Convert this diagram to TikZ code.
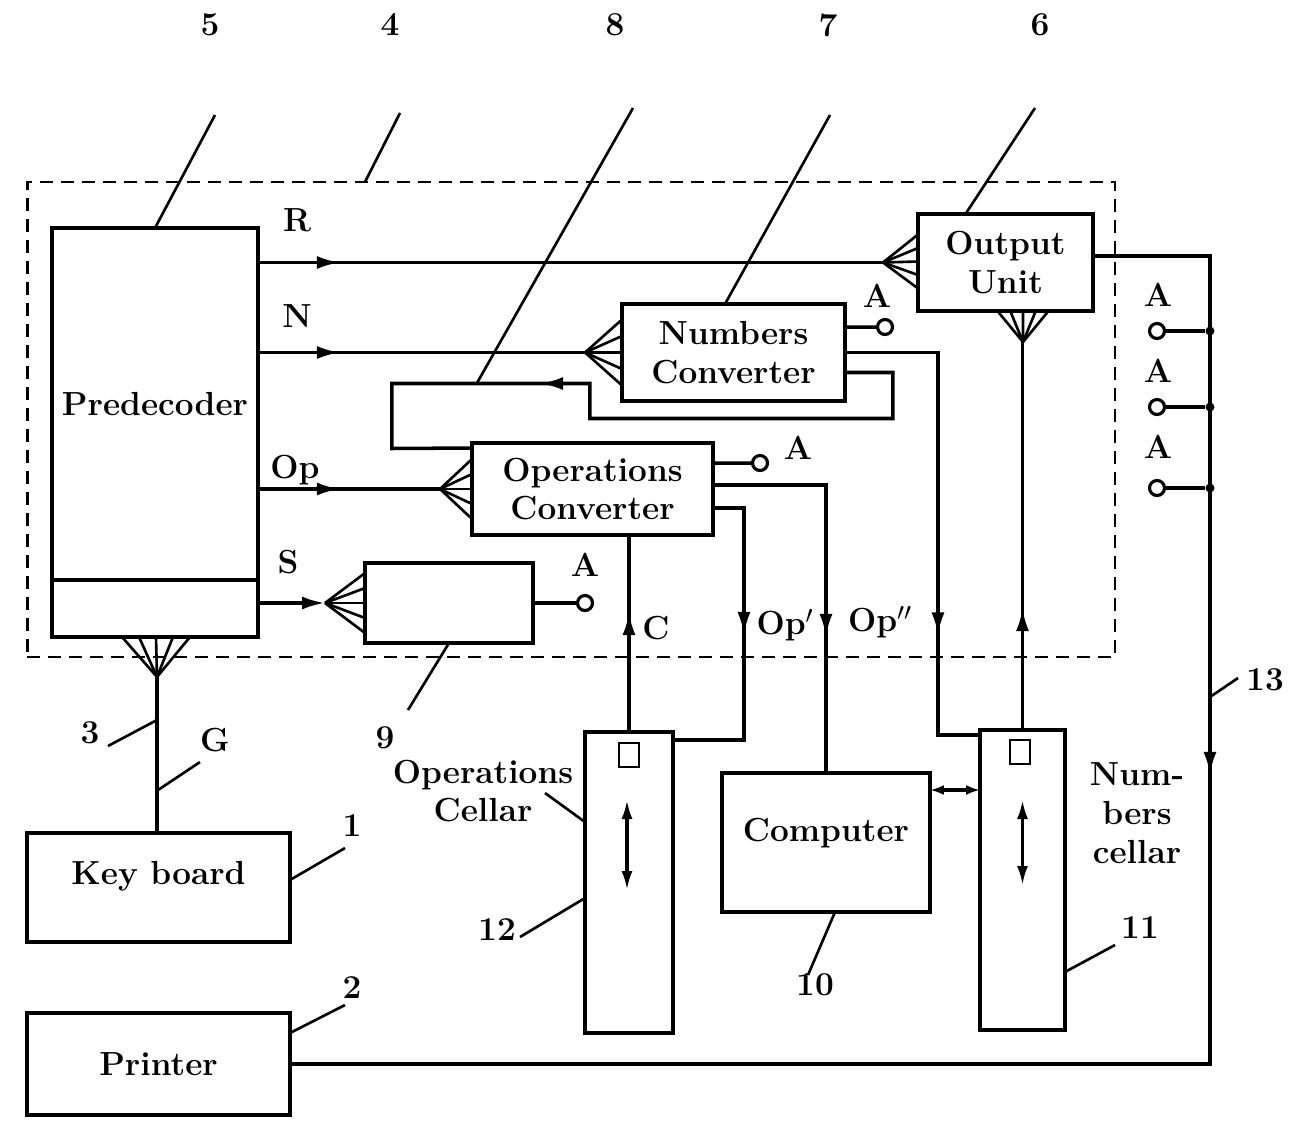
\documentclass[tikz,border=0pt]{standalone}
\usetikzlibrary{calc,positioning,arrows.meta,decorations.markings}
\newcommand{\fanin}[3]{%
  \foreach \fr in {0,0.25,0.5,0.75,1} \draw[fanline] (#1) -- ($#2!\fr!#3$);}

\begin{document}
\begin{tikzpicture}[x=0.02cm,y=-0.02cm,
  every node/.style={font=\fontsize{19}{22}\selectfont\bfseries},
  box/.style={draw,line width=2pt,rectangle,inner sep=0pt,outer sep=0pt,align=center},
  conn/.style={line width=2pt},
  lead/.style={line width=1.5pt},
  fanline/.style={line width=1.5pt},
  term/.style={draw,circle,line width=1.8pt,fill=white,minimum size=0.3cm,inner sep=0pt},
  jdot/.style={circle,fill,minimum size=0.18cm,inner sep=0pt},
  sq/.style={draw,line width=1.5pt,minimum width=0.4cm,minimum height=0.48cm,inner sep=0pt},
  midarrow/.style={postaction={decorate},decoration={markings,mark=at position #1 with {\arrow{>}}}},
  dbl/.style={line width=1.8pt,{Latex[length=0.38cm,width=0.22cm]}-{Latex[length=0.38cm,width=0.22cm]}},
  >={Latex[length=0.46cm,width=0.26cm]}]
\useasboundingbox (0,0) rectangle (1298,1126);

% dashed block 4
\node[draw,line width=1.6pt,dash pattern=on 0.26cm off 0.16cm,minimum width=21.76cm,minimum height=9.5cm,inner sep=0pt] (blk) at (571,419.5) {};

% boxes
\node[box,minimum width=4.12cm,minimum height=7.04cm] (pre) at (155,404) {Predecoder};
\node[box,minimum width=4.12cm,minimum height=1.14cm,anchor=north] (preb) at (pre.south) {};
\node[box,minimum width=3.5cm,minimum height=1.94cm] (outu) at (1005.5,262.5) {Output\\Unit};
\node[box,minimum width=4.46cm,minimum height=1.94cm] (numc) at (733.5,352.5) {Numbers\\Converter};
\node[box,minimum width=4.82cm,minimum height=1.84cm] (opc) at (592.5,489) {Operations\\Converter};
\node[box,minimum width=3.36cm,minimum height=1.6cm] (sgn) at (449,603) {};
\node[box,minimum width=5.26cm,minimum height=2.18cm,label={[name=keyt,yshift=0.22cm]center:Key board}] (key) at (158.5,887.5) {};
\node[box,minimum width=5.26cm,minimum height=2.04cm] (prn) at (158.5,1064) {Printer};
\node[box,minimum width=1.76cm,minimum height=6.02cm] (opcell) at (629,882.5) {};
\node[box,minimum width=4.16cm,minimum height=2.78cm,label={[name=compt,yshift=0.18cm]center:Computer}] (comp) at (826,842.5) {};
\node[box,minimum width=1.7cm,minimum height=6cm] (numcell) at (1022.5,880) {};

% cellar insides
\node[sq] (opsq) at ([yshift=2.55cm]opcell.center) {};
\node[sq] (nusq) at ([xshift=-0.05cm,yshift=2.56cm]numcell.center) {};
\draw[dbl] ([xshift=-0.04cm,yshift=1.65cm]opcell.center) -- ([xshift=-0.04cm,yshift=-0.15cm]opcell.center);
\draw[dbl] ([yshift=1.6cm]numcell.center) -- ([yshift=-0.1cm]numcell.center);

% fan inputs
\coordinate (outuF) at ([xshift=-0.7cm]outu.west);
\coordinate (outuB) at ([xshift=0.35cm,yshift=-0.62cm]outu.south);
\coordinate (numcF) at ([xshift=-0.74cm]numc.west);
\coordinate (opcF) at ([xshift=-0.64cm]opc.west);
\coordinate (sgnF) at ([xshift=-0.8cm]sgn.west);
\coordinate (preF) at ([xshift=0.04cm,yshift=-0.8cm]preb.south);
\fanin{outuF}{([yshift=0.56cm]outu.west)}{([yshift=-0.52cm]outu.west)}
\fanin{outuB}{([xshift=-0.16cm]outu.south)}{([xshift=0.86cm]outu.south)}
\fanin{numcF}{([yshift=0.66cm]numc.west)}{([yshift=-0.66cm]numc.west)}
\fanin{opcF}{([yshift=0.6cm]opc.west)}{([yshift=-0.6cm]opc.west)}
\fanin{sgnF}{([yshift=0.6cm]sgn.west)}{([yshift=-0.6cm]sgn.west)}
\fanin{preF}{([xshift=-0.66cm]preb.south)}{([xshift=0.7cm]preb.south)}

% signal lines
\draw[conn,midarrow=1.64cm] (pre.east |- outuF) -- (outuF);
\draw[conn,midarrow=1.64cm] (pre.east |- numcF) -- (numcF);
\draw[conn,midarrow=1.64cm] (pre.east |- opcF) -- (opcF);
\draw[conn,->] (preb.east |- sgnF) -- (sgnF);
\draw[conn,midarrow=9.64cm] ([yshift=-0.4cm]numc.east) -- ++(48,0) -- ++(0,46) -- ++(-303,0) -- ++(0,-35) -- ++(-198,0) -- ++(0,65) -- ([yshift=-0.1cm]opc.north west);
\draw[conn,midarrow=7.52cm] (numc.east) -- ++(93,0) |- ([yshift=-0.1cm]numcell.north west);
\draw[conn,midarrow=2.44cm] (numcell.north) -- (numcell.north |- outuB);
\draw[conn,midarrow=5.3cm] ([yshift=0.08cm]opc.east) -| (comp.north);
\draw[conn,midarrow=3.16cm] ([yshift=-0.38cm]opc.east) -- ++(31,0) |- ([yshift=-0.16cm]opcell.north east);
\draw[conn,midarrow=2.4cm] (opcell.north) -- (opcell.north |- opc.south);
\draw[dbl,{Latex[length=0.28cm,width=0.2cm]}-{Latex[length=0.28cm,width=0.2cm]}] ([yshift=-0.34cm]comp.north east) -- ([yshift=-0.34cm]comp.north east -| numcell.west);
\draw[conn] (preF) -- (preF |- key.north);
\draw[conn,midarrow=12.72cm] ([yshift=0.13cm]outu.east) -- ++(117,0) |- (prn.east);

% A terminals
\node[term] (tNc) at (885,327) {};
\node[term] (tOc) at (760,463) {};
\node[term] (tSg) at (585,603) {};
\draw[conn] ([yshift=0.51cm]numc.east) -- (tNc);
\draw[conn] ([yshift=0.52cm]opc.east) -- (tOc);
\draw[conn] (sgn.east) -- (tSg);
\foreach \k/\yy in {1/331,2/407,3/488} {
  \node[jdot] (j\k) at (1210,\yy) {};
  \node[term] (tB\k) at (1157,\yy) {};
  \draw[conn] (tB\k) -- (j\k);
}
\node (aNc) at (877,296) {A};
\node (aOc) at (798,448) {A};
\node (aSg) at (585,565) {A};
\node (aB1) at (1158,295) {A};
\node (aB2) at (1158,371) {A};
\node (aB3) at (1158,447) {A};

% signal names
\node (sR) at (297,220) {R};
\node (sN) at (297,316) {N};
\node (sOp) at (295,470) {Op};
\node (sS) at (288,562) {S};
\node (sC) at (656,628) {C};
\node (sOp1) at (785,625) {Op$'$};
\node (sOp2) at (880,622) {Op$''$};
\node (sG) at (215,740) {G};
\node[align=center] (opct) at (483,791) {Operations\\Cellar};
\node[align=center] (nuct) at (1137,813) {Num-\\bers\\cellar};

% reference numbers and leaders
\node (n5) at (210,25) {5};
\node (n4) at (390,25) {4};
\node (n8) at (615,25) {8};
\node (n7) at (828,25) {7};
\node (n6) at (1040,25) {6};
\node (n9) at (385,738) {9};
\node (n3) at (90,733) {3};
\node (n1) at (352,826) {1};
\node (n2) at (352,988) {2};
\node (n12) at (497,930) {12};
\node (n10) at (815,985) {10};
\node (n11) at (1140,928) {11};
\node (n13) at (1265,680) {13};
\coordinate (l5) at (215,115);
\coordinate (l4) at (400,113);
\coordinate (l8) at (633,108);
\coordinate (l7) at (830,115);
\coordinate (l6) at (1035,108);
\coordinate (l9) at (408,710);
\coordinate (l3) at (108,746);
\coordinate (lG) at (200,762);
\coordinate (l1) at (345,848);
\coordinate (l2) at (345,1005);
\coordinate (l12) at (520,937);
\coordinate (lOC) at (545,793);
\coordinate (l10) at (808,975);
\coordinate (l11) at (1115,945);
\coordinate (l13) at (1238,678);
\draw[lead] (l5) -- (pre.north);
\draw[lead] (l4) -- ++(-35,69);
\draw[lead] (l8) -- ++(-156,275);
\draw[lead] (l7) -- ([xshift=-0.17cm]numc.north);
\draw[lead] (l6) -- ([xshift=-0.8cm]outu.north);
\draw[lead] (sgn.south) -- (l9);
\draw[lead] (l3) -- ++(49,-26);
\draw[lead] (lG) -- ++(-42,28);
\draw[lead] ([yshift=0.15cm]key.east) -- (l1);
\draw[lead] ([yshift=0.62cm]prn.east) -- (l2);
\draw[lead] (l12) -- ([yshift=-0.31cm]opcell.west);
\draw[lead] (lOC) -- ([yshift=1.21cm]opcell.west);
\draw[lead] ([xshift=0.18cm]comp.south) -- (l10);
\draw[lead] ([yshift=-1.84cm]numcell.east) -- (l11);
\draw[lead] (l13) -- ++(-28,19);
\end{tikzpicture}
\end{document}
